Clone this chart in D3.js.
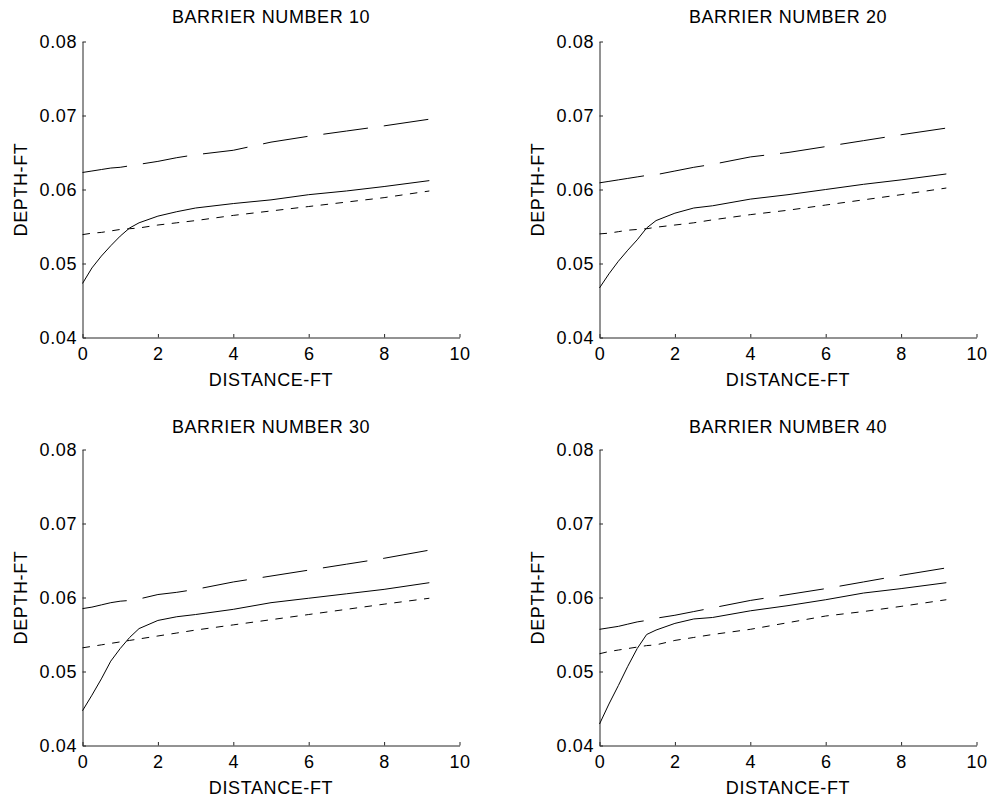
<!DOCTYPE html>
<html>
<head>
<meta charset="utf-8">
<script src="https://cdn.jsdelivr.net/npm/d3@7"></script>
<style>
  html, body { margin: 0; padding: 0; background: #fff; }
  svg { display: block; }
  text { font-family: "Liberation Sans", Arial, Helvetica, sans-serif; fill: #000; }
</style>
</head>
<body>
<svg id="chart" width="990" height="799"></svg>
<script>
// Distance along the channel (ft), shared by every profile
const distance = [0, 0.25, 0.5, 0.75, 1, 1.25, 1.5, 2, 2.5, 3, 4, 5, 6, 7, 8, 9.2];

// Barrier numbers shown in the four panels
const barriers = [10, 20, 30, 40];

// Depth profiles (ft): solid, long-dash and short-dash curves per barrier
const solid10 = [0.0473, 0.0494, 0.0510, 0.0524, 0.0537, 0.0548, 0.0555, 0.0564, 0.0570, 0.0575, 0.0581, 0.0586, 0.0593, 0.0598, 0.0604, 0.0612];
const longDash10 = [0.0623, 0.0625, 0.0627, 0.0629, 0.0630, 0.0632, 0.0634, 0.0638, 0.0643, 0.0647, 0.0653, 0.0664, 0.0672, 0.0679, 0.0686, 0.0695];
const shortDash10 = [0.0539, 0.0541, 0.0542, 0.0544, 0.0546, 0.0547, 0.0548, 0.0552, 0.0555, 0.0558, 0.0565, 0.0571, 0.0577, 0.0583, 0.0589, 0.0598];

const solid20 = [0.0467, 0.0486, 0.0503, 0.0518, 0.0532, 0.0548, 0.0558, 0.0568, 0.0575, 0.0578, 0.0587, 0.0593, 0.0600, 0.0607, 0.0613, 0.0621];
const longDash20 = [0.0609, 0.0611, 0.0613, 0.0615, 0.0617, 0.0619, 0.0620, 0.0625, 0.0630, 0.0634, 0.0644, 0.0650, 0.0658, 0.0666, 0.0674, 0.0683];
const shortDash20 = [0.0540, 0.0541, 0.0543, 0.0545, 0.0546, 0.0547, 0.0549, 0.0552, 0.0555, 0.0559, 0.0566, 0.0572, 0.0579, 0.0586, 0.0593, 0.0602];

const solid30 = [0.0447, 0.0468, 0.0490, 0.0514, 0.0531, 0.0546, 0.0558, 0.0569, 0.0574, 0.0577, 0.0584, 0.0593, 0.0599, 0.0605, 0.0611, 0.0620];
const longDash30 = [0.0585, 0.0587, 0.0590, 0.0593, 0.0595, 0.0596, 0.0598, 0.0604, 0.0607, 0.0611, 0.0621, 0.0629, 0.0637, 0.0645, 0.0653, 0.0664];
const shortDash30 = [0.0532, 0.0534, 0.0536, 0.0538, 0.0540, 0.0542, 0.0544, 0.0548, 0.0552, 0.0556, 0.0563, 0.0570, 0.0577, 0.0584, 0.0591, 0.0599];

const solid40 = [0.0429, 0.0456, 0.0481, 0.0507, 0.0531, 0.0550, 0.0556, 0.0565, 0.0571, 0.0573, 0.0582, 0.0589, 0.0597, 0.0606, 0.0612, 0.0620];
const longDash40 = [0.0557, 0.0559, 0.0561, 0.0564, 0.0567, 0.0569, 0.0572, 0.0576, 0.0581, 0.0586, 0.0596, 0.0604, 0.0612, 0.0621, 0.0630, 0.0640];
const shortDash40 = [0.0524, 0.0527, 0.0529, 0.0531, 0.0533, 0.0535, 0.0536, 0.0542, 0.0546, 0.0550, 0.0557, 0.0566, 0.0575, 0.0581, 0.0588, 0.0597];

// Axis ticks
const xTicks = [0, 2, 4, 6, 8, 10];
const yTicks = [0.04, 0.05, 0.06, 0.07, 0.08];

const panels = [
  { barrier: barriers[0], series: [solid10, longDash10, shortDash10] },
  { barrier: barriers[1], series: [solid20, longDash20, shortDash20] },
  { barrier: barriers[2], series: [solid30, longDash30, shortDash30] },
  { barrier: barriers[3], series: [solid40, longDash40, shortDash40] }
];

// Panel geometry
const plotW = 377, plotH = 296;
const lefts = [82.5, 599.5];
const tops = [41.5, 449.5];
const dashes = [null, "45,16", "7.5,7.5"];

const svg = d3.select("#chart");
const fontSize = 18;
const spacing = "0.6px";

panels.forEach((p, i) => {
  const col = i % 2, row = Math.floor(i / 2);
  const g = svg.append("g").attr("transform", `translate(${lefts[col]},${tops[row]})`);

  const x = d3.scaleLinear().domain([0, 10]).range([0, plotW]);
  const y = d3.scaleLinear().domain([0.04, 0.08]).range([plotH, 0]);

  // Bottom axis, ticks pointing inward
  const xAxis = g.append("g")
    .attr("transform", `translate(0,${plotH})`)
    .call(d3.axisBottom(x).tickValues(xTicks).tickFormat(d3.format("d"))
      .tickSizeInner(-3.5).tickSizeOuter(0).tickPadding(10));
  // Left axis, ticks pointing inward
  const yAxis = g.append("g")
    .call(d3.axisLeft(y).tickValues(yTicks).tickFormat(d3.format(".2f"))
      .tickSizeInner(-3.5).tickSizeOuter(0).tickPadding(5.5));

  [xAxis, yAxis].forEach(ax => {
    ax.select(".domain").attr("stroke", "#262626").attr("stroke-width", 1);
    ax.selectAll(".tick line").attr("stroke", "#262626").attr("stroke-width", 1);
    ax.selectAll(".tick text")
      .style("font-family", '"Liberation Sans", Arial, sans-serif')
      .style("font-size", fontSize + "px")
      .style("letter-spacing", spacing)
      .attr("fill", "#000");
  });

  // Depth profiles
  const line = d3.line()
    .x((d, k) => x(distance[k]))
    .y(d => y(d));
  p.series.forEach((vals, s) => {
    g.append("path")
      .datum(vals)
      .attr("d", line)
      .attr("fill", "none")
      .attr("stroke", "#000")
      .attr("stroke-width", 1)
      .attr("stroke-dasharray", dashes[s]);
  });

  // Panel title
  g.append("text")
    .attr("x", plotW / 2)
    .attr("y", row === 0 ? -18.5 : -16.5)
    .attr("text-anchor", "middle")
    .style("font-size", fontSize + "px")
    .style("letter-spacing", spacing)
    .text(`BARRIER NUMBER ${p.barrier}`);

  // Axis labels
  g.append("text")
    .attr("x", plotW / 2)
    .attr("y", plotH + 48.5)
    .attr("text-anchor", "middle")
    .style("font-size", fontSize + "px")
    .style("letter-spacing", spacing)
    .text("DISTANCE-FT");

  g.append("text")
    .attr("transform", `translate(-55.5,${plotH / 2}) rotate(-90)`)
    .attr("text-anchor", "middle")
    .style("font-size", fontSize + "px")
    .style("letter-spacing", spacing)
    .text("DEPTH-FT");
});
</script>
</body>
</html>
